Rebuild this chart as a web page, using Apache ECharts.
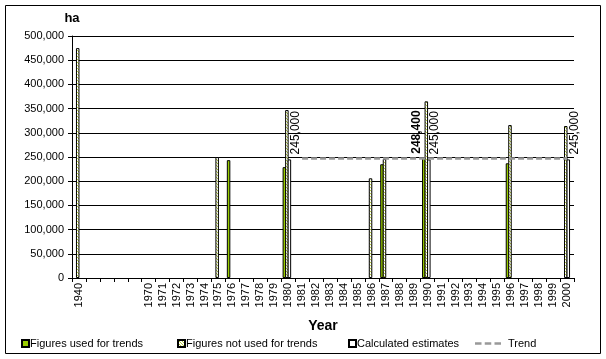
<!DOCTYPE html>
<html>
<head>
<meta charset="utf-8">
<script src="https://cdn.jsdelivr.net/npm/echarts@6/dist/echarts.min.js"></script>
<style>
html,body{margin:0;padding:0;background:#fff;}
#chart{width:606px;height:359px;}
</style>
</head>
<body>
<div id="chart"></div>
<script>
// Category labels (blank slots between 1940 and 1970)
const categories = ['1940', ' ', '  ', '   ', '    ',
  '1970','1971','1972','1973','1974','1975','1976','1977','1978','1979',
  '1980','1981','1982','1983','1984','1985','1986','1987','1988','1989',
  '1990','1991','1992','1993','1994','1995','1996','1997','1998','1999','2000'];

// Figures used for trends
const usedYears  = ['1976', '1980', '1987', '1990', '1996'];
const usedValues = [243500, 229000, 235000, 248400, 237000];

// Figures not used for trends
const notUsedYears  = ['1940', '1975', '1980', '1986', '1987', '1990', '1996', '2000'];
const notUsedValues = [475000, 250000, 347000, 206000, 246000, 365000, 316000, 314000];

// Calculated estimates
const estYears  = ['1980', '1990', '2000'];
const estValues = [245000, 245000, 245000];

// Trend
const trendYears  = ['1981','1982','1983','1984','1985','1986','1987','1988','1989','1990',
  '1991','1992','1993','1994','1995','1996','1997','1998','1999','2000'];
const trendValues = [246800,246800,246800,246800,246800,246800,246800,246800,246800,246800,
  246800,246800,246800,246800,246800,246800,246800,246800,246800,246800];

const yTicks = [0, 50000, 100000, 150000, 200000, 250000, 300000, 350000, 400000, 450000, 500000];

function toSeries(years, values) {
  const arr = categories.map(() => null);
  years.forEach((y, i) => { arr[categories.indexOf(y)] = values[i]; });
  return arr;
}
const fmt = v => String(v).replace(/\B(?=(\d{3})+(?!\d))/g, ',');

// dotted hatch pattern
const pc = document.createElement('canvas');
pc.width = 3; pc.height = 3;
const g = pc.getContext('2d');
g.fillStyle = '#ffffff'; g.fillRect(0, 0, 3, 3);
g.fillStyle = '#b5cc3a'; g.fillRect(0, 0, 1, 1); g.fillRect(1, 1, 1, 1); g.fillRect(2, 2, 1, 1);
const hatch = { image: pc, repeat: 'repeat' };

const FONT = 'Liberation Sans, Arial, sans-serif';
const GREEN = '#99cc00';

const usedData = toSeries(usedYears, usedValues).map((v, i) => {
  if (categories[i] === '1990' && v != null) {
    return { value: v, label: { show: true, fontWeight: 'bold', offset: [0, -7] } };
  }
  return v;
});

const chart = echarts.init(document.getElementById('chart'));
const legendBase = { orient: 'horizontal', top: 333, itemWidth: 7, itemHeight: 7, itemGap: 4,
  icon: 'rect',
  textStyle: { fontFamily: FONT, fontSize: 11, color: '#000', padding: [0,0,0,-4] } };

chart.setOption({
  animation: false,
  textStyle: { fontFamily: FONT },
  graphic: [{ type: 'rect', shape: { x: 5.5, y: 5.5, width: 595, height: 348 },
    style: { fill: 'none', stroke: '#000', lineWidth: 1 }, silent: true }],
  grid: { left: 72, right: 32, top: 36, bottom: 81, containLabel: false },
  legend: [
    Object.assign({}, legendBase, { left: 16, data: ['Figures used for trends'] }),
    Object.assign({}, legendBase, { left: 172, data: ['Figures not used for trends'] }),
    Object.assign({}, legendBase, { left: 343, data: ['Calculated estimates'] }),
    Object.assign({}, legendBase, { left: 470, itemWidth: 26, itemHeight: 8,
      data: [{ name: 'Trend', icon: 'path://M0,0h6v2.2h-6z M9,0h6v2.2h-6z M18,0h6v2.2h-6z',
        itemStyle: { color: '#999999', borderWidth: 0 } }],
      textStyle: { fontFamily: FONT, fontSize: 11, color: '#000', padding: [0,0,0,2] } })
  ],
  xAxis: {
    type: 'category', data: categories,
    name: 'Year', nameLocation: 'middle', nameGap: 41,
    nameTextStyle: { fontFamily: FONT, fontSize: 14, fontWeight: 'bold', color: '#000' },
    axisLine: { lineStyle: { color: '#000', width: 1 } },
    axisTick: { show: true, interval: 0, length: 4, lineStyle: { color: '#000' } },
    axisLabel: { interval: 0, rotate: 90, fontSize: 11, color: '#000', margin: 5, fontFamily: FONT },
    splitLine: { show: false }
  },
  yAxis: {
    type: 'value', min: 0, max: 500000, interval: 50000,
    name: 'ha', nameLocation: 'end', nameGap: 11,
    nameTextStyle: { fontFamily: FONT, fontSize: 13, fontWeight: 'bold', color: '#000', align: 'center' },
    axisLine: { show: true, lineStyle: { color: '#000', width: 1 } },
    axisTick: { show: true, length: 4, lineStyle: { color: '#000' } },
    axisLabel: { fontSize: 11, color: '#000', margin: 8, fontFamily: FONT,
      formatter: v => yTicks.indexOf(v) >= 0 ? fmt(v) : '' },
    splitLine: { show: true, lineStyle: { color: '#000', width: 1, type: 'solid' } }
  },
  series: [
    { name: 'Figures used for trends', type: 'bar', data: usedData, barWidth: 3.5, barGap: '-28%',
      itemStyle: { color: GREEN, borderColor: '#000', borderWidth: 1 },
      label: { show: false, position: 'top', rotate: 90, align: 'left', verticalAlign: 'middle',
        distance: 4, fontSize: 12, color: '#000', fontFamily: FONT, formatter: p => fmt(p.value) } },
    { name: 'Figures not used for trends', type: 'bar', data: toSeries(notUsedYears, notUsedValues),
      barWidth: 3.5, barGap: '-28%',
      itemStyle: { color: hatch, borderColor: '#000', borderWidth: 1 } },
    { name: 'Calculated estimates', type: 'bar', data: toSeries(estYears, estValues),
      barWidth: 3.5, barGap: '-28%',
      itemStyle: { color: '#fff', borderColor: '#000', borderWidth: 1 },
      label: { show: true, position: 'top', rotate: 90, align: 'left', verticalAlign: 'middle',
        distance: 5, offset: [0, 6], fontSize: 12, color: '#000', fontFamily: FONT,
        formatter: p => fmt(p.value) } },
    { name: 'spacer', type: 'bar', data: categories.map(() => null), barWidth: 3.5, barGap: '-28%' },
    { name: 'Trend', type: 'line', data: toSeries(trendYears, trendValues), symbol: 'none',
      showSymbol: false, connectNulls: false, z: 5,
      lineStyle: { color: '#999999', width: 2.5, type: [6, 3] }, itemStyle: { color: '#999999' } }
  ]
});
</script>
</body>
</html>
